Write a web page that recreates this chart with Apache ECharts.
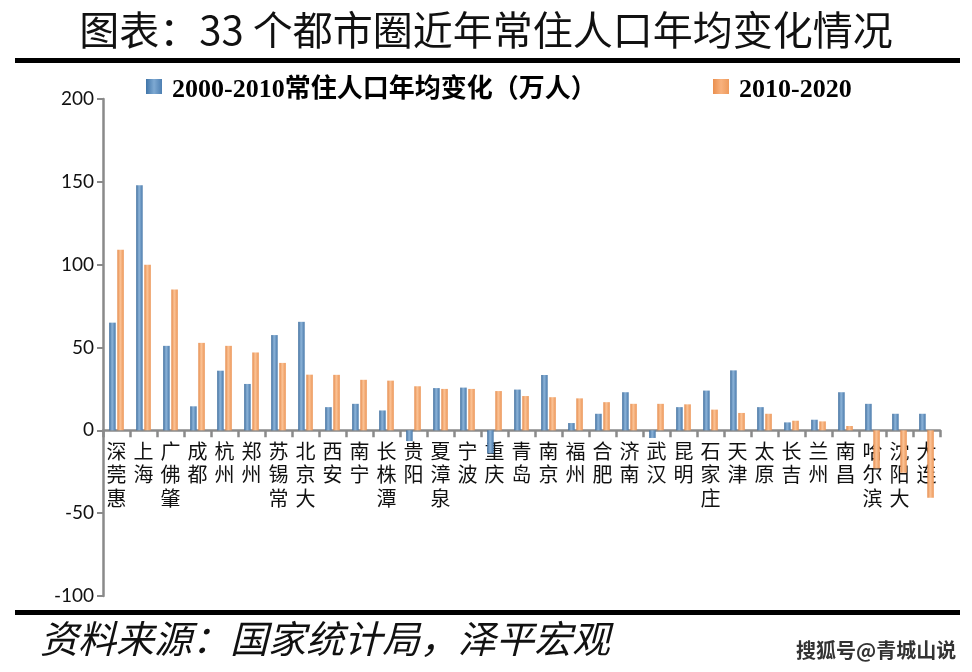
<!DOCTYPE html>
<html><head><meta charset="utf-8">
<script src="https://cdn.jsdelivr.net/npm/echarts@6/dist/echarts.min.js"></script>
<style>html,body{margin:0;padding:0;background:#fff}#c{width:972px;height:672px}</style>
</head><body><div id="c"></div>
<script>
const categories = ['深莞惠','上海','广佛肇','成都','杭州','郑州','苏锡常','北京大','西安','南宁','长株潭','贵阳','夏漳泉','宁波','重庆','青岛','南京','福州','合肥','济南','武汉','昆明','石家庄','天津','太原','长吉','兰州','南昌','哈尔滨','沈阳大','大连'];
const change2000_2010 = [65,148,51,14.5,36,28,57.5,65.5,14,16,12,-6.5,25.5,25.8,-14,24.6,33.4,4.4,10,23,-4.6,14,24,36.2,14,4.8,6.4,23,16,10,10];
const change2010_2020 = [109,100,85,52.8,51,47,40.7,33.6,33.5,30.5,30,26.6,25,25,23.7,20.7,20,19.3,17,16,16,15.7,12.5,10.5,10,5.8,5.4,2.6,-23,-25.6,-40.7];
const seriesNames = ['2000-2010常住人口年均变化（万人）','2010-2020'];
const yTicks = {min:-100, max:200, interval:50};

const blueGrad = new echarts.graphic.LinearGradient(0,0,1,0,[
  {offset:0,color:'#3d6c9c'},{offset:0.45,color:'#8db4d9'},{offset:1,color:'#4a7aab'}]);
const orangeGrad = new echarts.graphic.LinearGradient(0,0,1,0,[
  {offset:0,color:'#e58a4a'},{offset:0.45,color:'#fbc396'},{offset:1,color:'#ec9658'}]);
const blueIcon = new echarts.graphic.LinearGradient(0,0,1,0,[
  {offset:0,color:'#3f74a8'},{offset:0.5,color:'#7ea9d2'},{offset:1,color:'#4d7fb2'}]);
const orangeIcon = new echarts.graphic.LinearGradient(0,0,1,0,[
  {offset:0,color:'#ea8f4e'},{offset:0.5,color:'#f8b27e'},{offset:1,color:'#ee9a5c'}]);

const gridTop = 99, gridBottom = 76, H = 672;
const plotH = H - gridTop - gridBottom;
const zeroOffset = plotH * (0 - yTicks.min) / (yTicks.max - yTicks.min);

const chart = echarts.init(document.getElementById('c'), null, {renderer:'canvas'});
const legendText = {fontFamily:'Liberation Serif, Noto Sans CJK SC', fontWeight:'bold', fontSize:26, color:'#000'};
chart.setOption({
  animation:false,
  backgroundColor:'#fff',
  title:{
    text:'图表：33 个都市圈近年常住人口年均变化情况',
    left:'center', top:5,
    textStyle:{fontFamily:'Noto Sans CJK SC', fontWeight:'normal', fontSize:40, color:'#111'}
  },
  legend:[
    {data:[seriesNames[0]], left:146, top:72, itemWidth:16, itemHeight:15, itemGap:6, itemStyle:{opacity:0}, textStyle:legendText, selectedMode:false},
    {data:[seriesNames[1]], left:713, top:72, itemWidth:16, itemHeight:15, itemGap:6, itemStyle:{opacity:0}, textStyle:legendText, selectedMode:false}
  ],
  grid:{left:103, right:32, top:gridTop, bottom:gridBottom, containLabel:false},
  xAxis:{
    type:'category', data:categories, position:'bottom', offset:-zeroOffset,
    axisLine:{onZero:false, lineStyle:{color:'#8a8a8a', width:2.5}},
    axisTick:{show:true, length:7, lineStyle:{color:'#8a8a8a', width:2.5}},
    axisLabel:{interval:0, margin:9, fontFamily:'Noto Sans CJK SC', fontSize:20, lineHeight:23.5, color:'#111',
      formatter:v=>v.split('').join('\n'), verticalAlign:'top'}
  },
  yAxis:{
    type:'value', min:yTicks.min, max:yTicks.max, interval:yTicks.interval,
    axisLine:{show:true, lineStyle:{color:'#8a8a8a', width:2.5}},
    axisTick:{show:true, inside:false, length:6, lineStyle:{color:'#8a8a8a', width:2}},
    splitLine:{show:false},
    axisLabel:{margin:9, fontFamily:'Lato', fontSize:19, color:'#111'}
  },
  series:[
    {name:seriesNames[0], type:'bar', data:change2000_2010, barWidth:6.5, barGap:'25%',
      itemStyle:{color:blueGrad}},
    {name:seriesNames[1], type:'bar', data:change2010_2020, barWidth:6.5, barGap:'25%',
      itemStyle:{color:orangeGrad}}
  ],
  graphic:[
    {type:'rect', shape:{x:15, y:58, width:945, height:5}, style:{fill:'#000'}},
    {type:'rect', shape:{x:15, y:610, width:945, height:5}, style:{fill:'#000'}},
    {type:'rect', shape:{x:146, y:79, width:16, height:15}, style:{fill:blueIcon}},
    {type:'rect', shape:{x:713, y:79, width:16, height:15}, style:{fill:orangeIcon}},
    {type:'text', left:40, top:620, style:{text:'资料来源：国家统计局，泽平宏观', font:'italic 38px "Noto Sans CJK SC"', fill:'#111'}},
    {type:'text', left:795, top:639, style:{text:'搜狐号@青城山说', font:'bold 20px "Noto Sans CJK SC"', fill:'#333', stroke:'#fff', lineWidth:2}}
  ]
});
</script></body></html>
